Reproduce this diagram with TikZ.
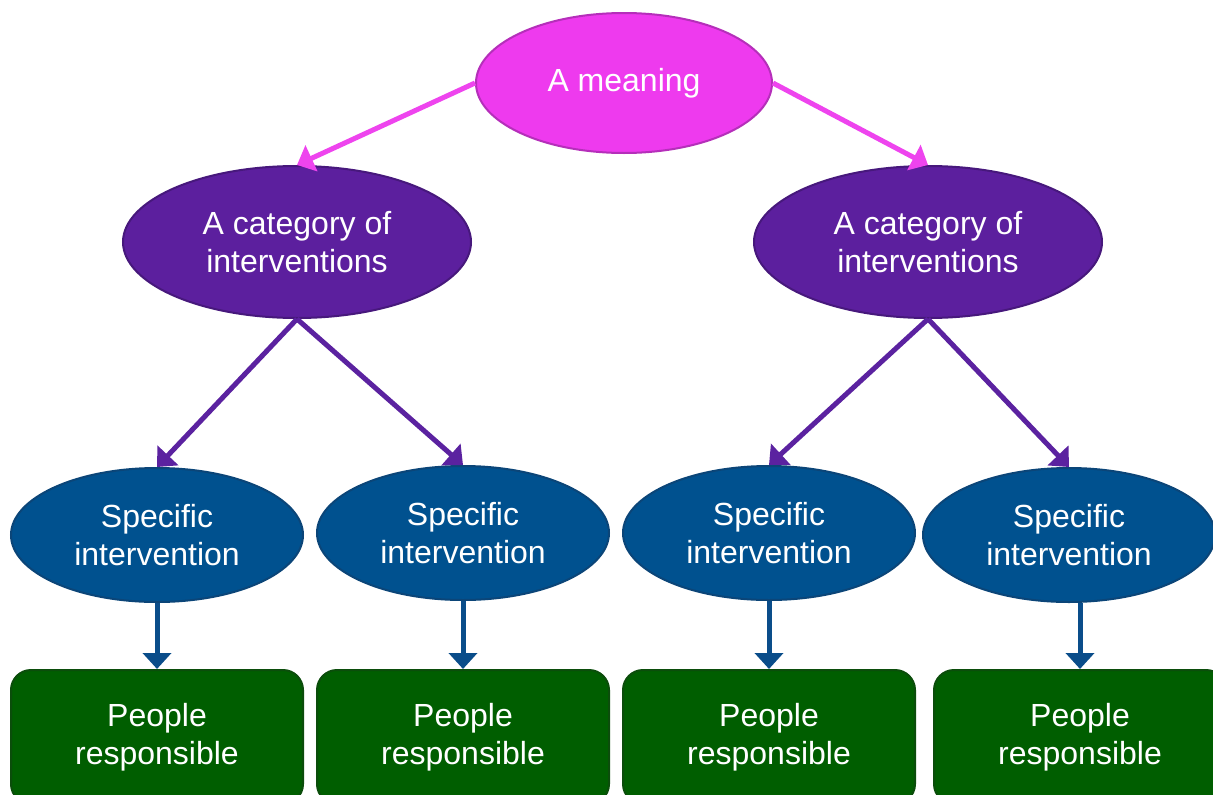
\documentclass[tikz,border=0pt]{standalone}
\usepackage{fontspec}
\setmainfont{Liberation Sans}
\usetikzlibrary{shapes.geometric,arrows.meta}
\definecolor{pinkfill}{HTML}{EE3AEE}
\definecolor{pinkline}{HTML}{B52FBA}
\definecolor{pinkarrow}{HTML}{EE44EE}
\definecolor{purfill}{HTML}{5C1F9E}
\definecolor{purline}{HTML}{47187C}
\definecolor{purarrow}{HTML}{5B22A0}
\definecolor{bluefill}{HTML}{00518F}
\definecolor{blueline}{HTML}{0B4578}
\definecolor{bluearrow}{HTML}{0A4D8A}
\definecolor{greenfill}{HTML}{005E00}
\definecolor{greenline}{HTML}{0B4D0B}
\tikzset{
  ell/.style={ellipse, inner sep=0pt, line width=2pt, text=white, align=center,
    font=\fontsize{32}{38}\selectfont},
  toptext/.style={ell, fill=pinkfill, draw=pinkline, minimum width=296pt, minimum height=140pt},
  catnode/.style={ell, fill=purfill, draw=purline, minimum width=348pt, minimum height=152pt},
  specnode/.style={ell, fill=bluefill, draw=blueline, minimum width=292pt, minimum height=134pt},
  peoplebox/.style={rectangle, rounded corners=20pt, fill=greenfill, draw=greenline, line width=2pt,
    text=white, align=center, minimum width=292pt, minimum height=134pt,
    font=\fontsize{32}{38}\selectfont},
  conn/.style={line width=5pt, -{Triangle[width=28pt,length=16pt]}},
}
\begin{document}
\begin{tikzpicture}[x=1pt,y=-1pt]
\useasboundingbox (0,0) rectangle (1213,795);
\clip (0,0) rectangle (1213,795);
\node[toptext] (top) at (624,83) {A meaning};
\node[catnode] (catL) at (297,242) {A category of\\interventions};
\node[catnode] (catR) at (928,242) {A category of\\interventions};
\node[specnode] (s1) at (157,535) {Specific\\intervention};
\node[specnode] (s2) at (463,533) {Specific\\intervention};
\node[specnode] (s3) at (769,533) {Specific\\intervention};
\node[specnode] (s4) at (1069,535) {Specific\\intervention};
\node[peoplebox] (b1) at (157,737) {People\\responsible};
\node[peoplebox] (b2) at (463,737) {People\\responsible};
\node[peoplebox] (b3) at (769,737) {People\\responsible};
\node[peoplebox] (b4) at (1080,737) {People\\responsible};
\draw[conn, pinkarrow] (top.west) -- (catL.north);
\draw[conn, pinkarrow] (top.east) -- (catR.north);
\draw[conn, purarrow] (catL.south) -- (s1.north);
\draw[conn, purarrow] (catL.south) -- (s2.north);
\draw[conn, purarrow] (catR.south) -- (s3.north);
\draw[conn, purarrow] (catR.south) -- (s4.north);
\draw[conn, bluearrow] (s1.south) -- (b1.north);
\draw[conn, bluearrow] (s2.south) -- (b2.north);
\draw[conn, bluearrow] (s3.south) -- (b3.north);
\draw[conn, bluearrow] (b4.north |- s4.south) -- (b4.north);
\end{tikzpicture}
\end{document}
